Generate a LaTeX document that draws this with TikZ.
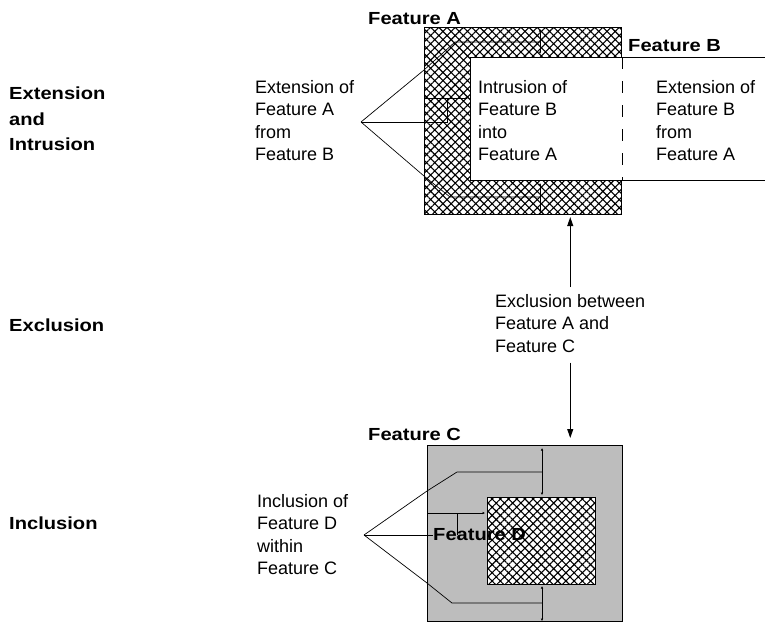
\documentclass[tikz,border=0pt]{standalone}
\usepackage{fontspec}
\setmainfont{Liberation Sans}
\newfontfamily\lblfont[FakeStretch=1.15]{Liberation Sans}
\usetikzlibrary{patterns.meta,arrows.meta,calc}
\begin{document}
\begin{tikzpicture}[x=1pt,y=-1pt,
  txt/.style={anchor=north west, inner sep=0pt, align=left, font={\fontsize{18}{22.5}\selectfont}},
  lbl/.style={anchor=north west, inner sep=0pt, align=left, font={\lblfont\bfseries\fontsize{17.5}{25.5}\selectfont}},
  hatch/.style={pattern={Hatch[angle=45,distance=5.8pt,line width=1.1pt]}, pattern color=black},
  box/.style={draw, line width=1pt, inner sep=0pt, anchor=north west},
  ptr/.style={line width=0.7pt},
  tipped/.style={line width=0.7pt, {Latex[length=2.5pt,width=2.5pt]}-{Latex[length=2.5pt,width=2.5pt]}},
  endtip/.style={line width=0.7pt, -{Latex[length=2.5pt,width=2.5pt]}},
  arr/.style={line width=1pt, -{Triangle[length=9pt,width=6pt]}}]
\clip (0,0) rectangle (765,622);
\fill[white] (0,0) rectangle (765,622);

% ---------- Feature A / B ----------
\node[box, hatch, minimum width=197pt, minimum height=187pt] (A) at (424,27) {};
\node[box, fill=white, minimum width=340pt, minimum height=123pt] (B) at (470,57) {};
\draw[line width=1pt, dash pattern=on 12pt off 12pt] (A.east |- B.north) -- (A.east |- B.south);

% ---------- Feature C / D ----------
\node[box, fill=black!26, minimum width=195pt, minimum height=176pt] (C) at (427,445) {};
\node[box, preaction={fill=white}, hatch, minimum width=108pt, minimum height=87pt] (D) at (487,497) {};

% ---------- labels ----------
\node[lbl] (lab1) at (9,87) {Extension\\and\\Intrusion};
\node[lbl] (lab2) at (9,319) {Exclusion};
\node[lbl] (lab3) at (9,517) {Inclusion};
\node[lbl] (fA) at (368,12) {Feature A};
\node[lbl] (fB) at (628,39) {Feature B};
\node[lbl] (fC) at (368,428) {Feature C};
\node[lbl] (fD) at (433,528) {Feature D};

\node[txt] (extA) at (255,80) {Extension of\\Feature A\\from\\Feature B};
\node[txt] (intr) at (478,80) {Intrusion of\\Feature B\\into\\Feature A};
\node[txt] (extB) at (656,80) {Extension of\\Feature B\\from\\Feature A};
\node[txt] (ex) at (495,294) {Exclusion between\\Feature A and\\Feature C};
\node[txt] (inc) at (257,494) {Inclusion of\\Feature D\\within\\Feature C};

% ---------- pointers for Feature A ----------
\coordinate (pA) at (361,122);
\coordinate (a1) at (424,70);
\coordinate (a2) at (455,42);
\coordinate (a3) at (540,42);
\coordinate (at1) at (540,29);
\coordinate (at2) at (540,54);
\draw[ptr] (pA) -- (a1) -- (a2) -- (a3);
\draw[tipped] (at1) -- (at2);

\coordinate (m1) at (447,122);
\coordinate (m2) at (447,98);
\coordinate (m3) at (424,98);
\coordinate (m4) at (468,98);
\draw[ptr] (pA) -- (m1) -- (m2);
\draw[endtip] (m3) -- (m4);

\coordinate (b1) at (424,176);
\coordinate (b2) at (450,197);
\coordinate (b3) at (540,197);
\coordinate (bt1) at (540,183);
\coordinate (bt2) at (540,212);
\draw[ptr] (pA) -- (b1) -- (b2) -- (b3);
\draw[tipped] (bt1) -- (bt2);

% ---------- pointers for Feature C ----------
\coordinate (pC) at (364,535);
\coordinate (c1) at (427,491);
\coordinate (c2) at (457,472);
\coordinate (c3) at (542,472);
\coordinate (ct1) at (542,448);
\coordinate (ct2) at (542,495);
\draw[ptr] (pC) -- (c1) -- (c2) -- (c3);
\draw[tipped] (ct1) -- (ct2);

\coordinate (n1) at (427,513);
\coordinate (n2) at (485,513);
\coordinate (n3) at (457,513);
\coordinate (n4) at (457,535);
\draw[ptr] (pC) -- (pC -| fD.west);
\draw[endtip] (n1) -- (n2);
\draw[ptr] (n3) -- (n4);

\coordinate (d1) at (427,583);
\coordinate (d2) at (452,603);
\coordinate (d3) at (542,603);
\coordinate (dt1) at (542,586);
\coordinate (dt2) at (542,621);
\draw[ptr] (pC) -- (d1) -- (d2) -- (d3);
\draw[tipped] (dt1) -- (dt2);

% ---------- exclusion arrows ----------
\draw[arr] ($(ex.north)+(0,-7)$) -- ($(ex.north |- A.south)+(0,2)$);
\draw[arr] ($(ex.south)+(0,10)$) -- ($(ex.south |- C.north)+(0,-7)$);
\end{tikzpicture}
\end{document}
